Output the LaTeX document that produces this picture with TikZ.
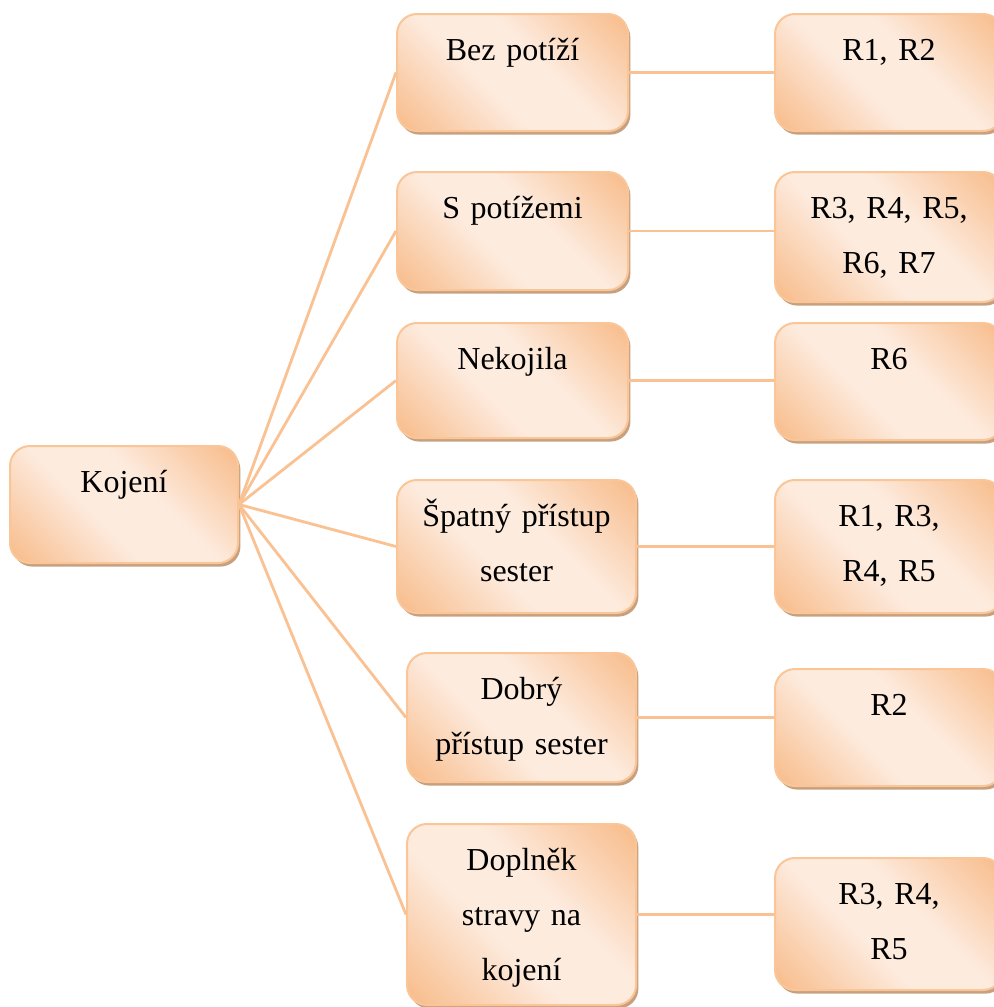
\documentclass[tikz,border=0pt]{standalone}
\usepackage{fontspec}
\setmainfont{Liberation Serif}
\usetikzlibrary{shadows}
\definecolor{peachdark}{RGB}{248,191,144}
\definecolor{peachlight}{RGB}{253,235,222}
\definecolor{peachrim}{RGB}{250,198,152}
\definecolor{peachline}{RGB}{250,194,146}
\definecolor{boxshade}{RGB}{190,145,105}
\pgfdeclarehorizontalshading{peachband}{100bp}{color(0bp)=(peachdark); color(17bp)=(peachdark); color(42bp)=(peachlight); color(58bp)=(peachlight); color(83bp)=(peachdark); color(100bp)=(peachdark)}
\begin{document}
\begin{tikzpicture}[x=0.5pt,y=-0.5pt,
  box/.style={rectangle, rounded corners=10pt, draw=peachrim, line width=1pt,
    shade, shading=peachband, shading angle=45, inner sep=0pt,
    drop shadow={shadow xshift=1.2pt, shadow yshift=-1.8pt, fill=boxshade, opacity=0.85}},
  lbl/.style={font=\fontsize{16}{27.5}\selectfont\frenchspacing, text width=110pt, align=center,
    anchor=base, inner sep=0pt},
  conn/.style={draw=peachline, line width=1.4pt}]
\useasboundingbox[fill=white] (0,0) rectangle (994,1007);

% root
\node[box, minimum width=114pt, minimum height=58.5pt] (k) at (124,504.5) {};

% middle column
\node[box, minimum width=115.5pt, minimum height=58.5pt] (m1) at (512.5,72.5) {};
\node[box, minimum width=115.5pt, minimum height=59pt]   (m2) at (512.5,231) {};
\node[box, minimum width=115.5pt, minimum height=57.5pt] (m3) at (512.5,380.5) {};
\node[box, minimum width=119.5pt, minimum height=66.5pt] (m4) at (516.5,546.5) {};
\node[box, minimum width=114.5pt, minimum height=64.5pt] (m5) at (521.5,717.5) {};
\node[box, minimum width=114.5pt, minimum height=90.5pt] (m6) at (521.5,914.5) {};

% right column
\node[box, minimum width=114pt, minimum height=58.5pt] (r1) at (889,72.5) {};
\node[box, minimum width=114pt, minimum height=65pt]   (r2) at (889,237) {};
\node[box, minimum width=114pt, minimum height=58.5pt] (r3) at (889,381.5) {};
\node[box, minimum width=114pt, minimum height=66.5pt] (r4) at (889,546.5) {};
\node[box, minimum width=114pt, minimum height=58.5pt] (r5) at (889,727.5) {};
\node[box, minimum width=114pt, minimum height=66pt]   (r6) at (889,924) {};

% labels
\node[lbl] (kt) at ([yshift=-23.5pt]k.north) {Kojení};
\node[lbl] (m1t) at ([yshift=-23.5pt]m1.north) {Bez potíží};
\node[lbl] (m2t) at ([yshift=-23.5pt]m2.north) {S potížemi};
\node[lbl] (m3t) at ([yshift=-23.5pt]m3.north) {Nekojila};
\node[lbl] (m4t) at ([yshift=-23.5pt]m4.north) {Špatný přístup\\ sester};
\node[lbl] (m5t) at ([yshift=-23.5pt]m5.north) {Dobrý\\ přístup sester};
\node[lbl] (m6t) at ([yshift=-23.5pt]m6.north) {Doplněk\\ stravy na\\ kojení};
\node[lbl] (r1t) at ([yshift=-23.5pt]r1.north) {R1, R2};
\node[lbl] (r2t) at ([yshift=-23.5pt]r2.north) {R3, R4, R5,\\ R6, R7};
\node[lbl] (r3t) at ([yshift=-23.5pt]r3.north) {R6};
\node[lbl] (r4t) at ([yshift=-23.5pt]r4.north) {R1, R3,\\ R4, R5};
\node[lbl] (r5t) at ([yshift=-23.5pt]r5.north) {R2};
\node[lbl] (r6t) at ([yshift=-23.5pt]r6.north) {R3, R4,\\ R5};

% connectors
\foreach \i in {1,...,6} {
  \draw[conn] (k.east) -- (m\i.west);
  \draw[conn] (m\i.east) -- (m\i.east -| r\i.west);
}
\end{tikzpicture}
\end{document}
